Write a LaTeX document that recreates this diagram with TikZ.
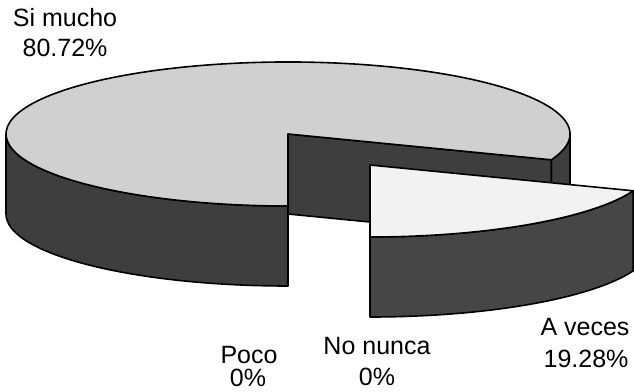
\documentclass[tikz,border=0pt]{standalone}
\usepackage{fontspec}
\setmainfont{Liberation Sans}
\usetikzlibrary{calc}
\definecolor{bigtop}{HTML}{D0D0D0}
\definecolor{bigside}{HTML}{3E3E3E}
\definecolor{smalltop}{HTML}{F2F2F2}
\definecolor{smallside}{HTML}{464646}
\tikzset{
  edge/.style={draw=black, line width=1.6pt, line join=round},
  lbl/.style={anchor=base, inner sep=0pt, font=\fontsize{25}{30}\selectfont},
}
\begin{document}
\begin{tikzpicture}[x=1pt,y=1pt]
\useasboundingbox (0,0) rectangle (634,391);
\clip (0,0) rectangle (634,391);
\def\rx{282}\def\ry{72}\def\dd{80}
\def\aa{-21}
\coordinate (C) at (288,257);
\coordinate (S) at (370,226);
% big slice walls
\path[edge, fill=bigside] ($(C)+(180:\rx pt and \ry pt)$) arc[start angle=180, end angle=270, x radius=\rx, y radius=\ry]
  -- ++(0,-\dd) arc[start angle=270, end angle=180, x radius=\rx, y radius=\ry] -- cycle;
\path[edge, fill=bigside] ($(C)+(\aa:\rx pt and \ry pt)$) arc[start angle=\aa, end angle=0, x radius=\rx, y radius=\ry]
  -- ++(0,-\dd) arc[start angle=0, end angle=\aa, x radius=\rx, y radius=\ry] -- cycle;
% big cut face
\path[edge, fill=bigside] (C) -- ($(C)+(\aa:\rx pt and \ry pt)$) -- ++(0,-\dd) -- ($(C)+(0,-\dd)$) -- cycle;
% big top
\path[edge, fill=bigtop] (C) -- ($(C)+(\aa:\rx pt and \ry pt)$) arc[start angle=\aa, end angle=270, x radius=\rx, y radius=\ry] -- cycle;
\draw[edge] (C) -- ($(C)+(0,-\ry)+(0,-\dd)$);
% small slice wall
\path[edge, fill=smallside] ($(S)+(270:\rx pt and \ry pt)$) arc[start angle=270, end angle=360+\aa, x radius=\rx, y radius=\ry]
  -- ++(0,-\dd) arc[start angle=360+\aa, end angle=270, x radius=\rx, y radius=\ry] -- cycle;
% small slice top
\path[edge, fill=smalltop] (S) -- ($(S)+(270:\rx pt and \ry pt)$) arc[start angle=270, end angle=360+\aa, x radius=\rx, y radius=\ry] -- cycle;
% labels
\node[lbl] (l1) at (65,364) {Si mucho};
\node[lbl] (l1p) at (65,334) {80.72\%};
\node[lbl] (l2) at (249,28) {Poco};
\node[lbl] (l2p) at (248,5) {0\%};
\node[lbl] (l3) at (377,37) {No nunca};
\node[lbl] (l3p) at (377,6) {0\%};
\node[lbl] (l4) at (585,56) {A veces};
\node[lbl] (l4p) at (586,24) {19.28\%};
\end{tikzpicture}
\end{document}
